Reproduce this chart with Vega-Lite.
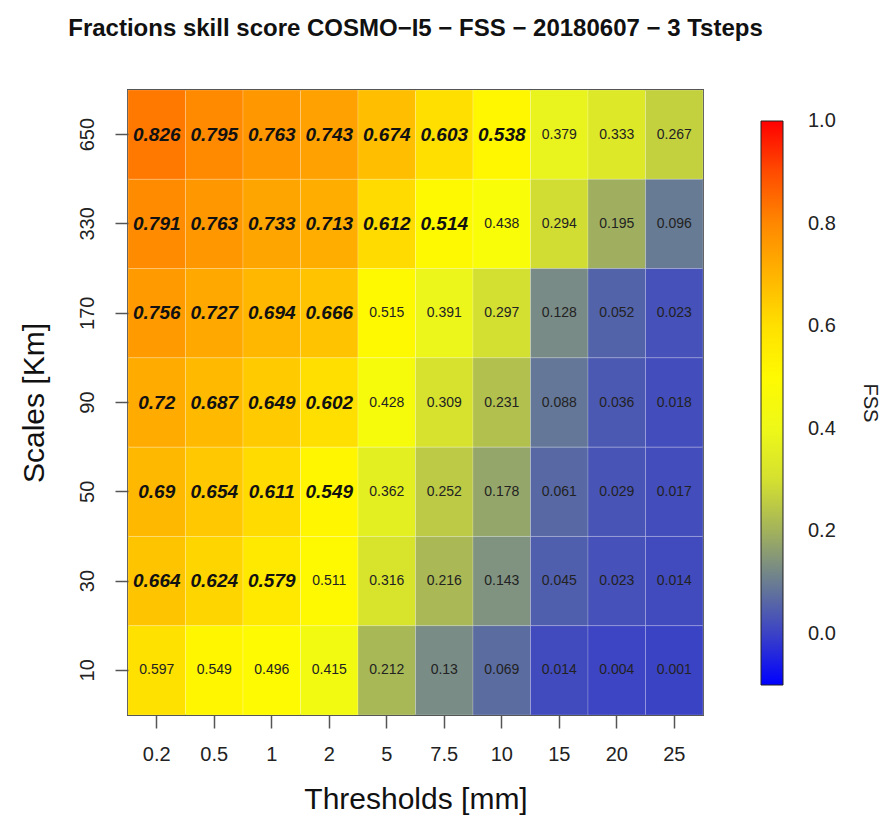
{
  "$schema": "https://vega.github.io/schema/vega-lite/v6.json",
  "width": 575,
  "height": 625,
  "autosize": {"type": "none"},
  "padding": {"left": 128, "top": 90, "right": 179, "bottom": 102},
  "background": "white",
  "config": {
    "font": "Liberation Sans",
    "view": {"stroke": "#444", "strokeWidth": 1.8},
    "axis": {"grid": false, "domain": false, "labelFont": "Liberation Sans", "titleFont": "Liberation Sans", "labelColor": "#222", "titleColor": "#111", "tickColor": "#555", "tickWidth": 1.5}
  },
  "title": {
    "text": "Fractions skill score COSMO−I5 − FSS − 20180607 − 3 Tsteps",
    "font": "Liberation Sans",
    "fontSize": 24,
    "fontWeight": "bold",
    "color": "#111",
    "anchor": "middle",
    "offset": 49
  },
  "data": {
    "values": [
      {"scale": "650", "threshold": "0.2", "fss": 0.826, "useful": true},
      {"scale": "650", "threshold": "0.5", "fss": 0.795, "useful": true},
      {"scale": "650", "threshold": "1", "fss": 0.763, "useful": true},
      {"scale": "650", "threshold": "2", "fss": 0.743, "useful": true},
      {"scale": "650", "threshold": "5", "fss": 0.674, "useful": true},
      {"scale": "650", "threshold": "7.5", "fss": 0.603, "useful": true},
      {"scale": "650", "threshold": "10", "fss": 0.538, "useful": true},
      {"scale": "650", "threshold": "15", "fss": 0.379, "useful": false},
      {"scale": "650", "threshold": "20", "fss": 0.333, "useful": false},
      {"scale": "650", "threshold": "25", "fss": 0.267, "useful": false},
      {"scale": "330", "threshold": "0.2", "fss": 0.791, "useful": true},
      {"scale": "330", "threshold": "0.5", "fss": 0.763, "useful": true},
      {"scale": "330", "threshold": "1", "fss": 0.733, "useful": true},
      {"scale": "330", "threshold": "2", "fss": 0.713, "useful": true},
      {"scale": "330", "threshold": "5", "fss": 0.612, "useful": true},
      {"scale": "330", "threshold": "7.5", "fss": 0.514, "useful": true},
      {"scale": "330", "threshold": "10", "fss": 0.438, "useful": false},
      {"scale": "330", "threshold": "15", "fss": 0.294, "useful": false},
      {"scale": "330", "threshold": "20", "fss": 0.195, "useful": false},
      {"scale": "330", "threshold": "25", "fss": 0.096, "useful": false},
      {"scale": "170", "threshold": "0.2", "fss": 0.756, "useful": true},
      {"scale": "170", "threshold": "0.5", "fss": 0.727, "useful": true},
      {"scale": "170", "threshold": "1", "fss": 0.694, "useful": true},
      {"scale": "170", "threshold": "2", "fss": 0.666, "useful": true},
      {"scale": "170", "threshold": "5", "fss": 0.515, "useful": false},
      {"scale": "170", "threshold": "7.5", "fss": 0.391, "useful": false},
      {"scale": "170", "threshold": "10", "fss": 0.297, "useful": false},
      {"scale": "170", "threshold": "15", "fss": 0.128, "useful": false},
      {"scale": "170", "threshold": "20", "fss": 0.052, "useful": false},
      {"scale": "170", "threshold": "25", "fss": 0.023, "useful": false},
      {"scale": "90", "threshold": "0.2", "fss": 0.72, "useful": true},
      {"scale": "90", "threshold": "0.5", "fss": 0.687, "useful": true},
      {"scale": "90", "threshold": "1", "fss": 0.649, "useful": true},
      {"scale": "90", "threshold": "2", "fss": 0.602, "useful": true},
      {"scale": "90", "threshold": "5", "fss": 0.428, "useful": false},
      {"scale": "90", "threshold": "7.5", "fss": 0.309, "useful": false},
      {"scale": "90", "threshold": "10", "fss": 0.231, "useful": false},
      {"scale": "90", "threshold": "15", "fss": 0.088, "useful": false},
      {"scale": "90", "threshold": "20", "fss": 0.036, "useful": false},
      {"scale": "90", "threshold": "25", "fss": 0.018, "useful": false},
      {"scale": "50", "threshold": "0.2", "fss": 0.69, "useful": true},
      {"scale": "50", "threshold": "0.5", "fss": 0.654, "useful": true},
      {"scale": "50", "threshold": "1", "fss": 0.611, "useful": true},
      {"scale": "50", "threshold": "2", "fss": 0.549, "useful": true},
      {"scale": "50", "threshold": "5", "fss": 0.362, "useful": false},
      {"scale": "50", "threshold": "7.5", "fss": 0.252, "useful": false},
      {"scale": "50", "threshold": "10", "fss": 0.178, "useful": false},
      {"scale": "50", "threshold": "15", "fss": 0.061, "useful": false},
      {"scale": "50", "threshold": "20", "fss": 0.029, "useful": false},
      {"scale": "50", "threshold": "25", "fss": 0.017, "useful": false},
      {"scale": "30", "threshold": "0.2", "fss": 0.664, "useful": true},
      {"scale": "30", "threshold": "0.5", "fss": 0.624, "useful": true},
      {"scale": "30", "threshold": "1", "fss": 0.579, "useful": true},
      {"scale": "30", "threshold": "2", "fss": 0.511, "useful": false},
      {"scale": "30", "threshold": "5", "fss": 0.316, "useful": false},
      {"scale": "30", "threshold": "7.5", "fss": 0.216, "useful": false},
      {"scale": "30", "threshold": "10", "fss": 0.143, "useful": false},
      {"scale": "30", "threshold": "15", "fss": 0.045, "useful": false},
      {"scale": "30", "threshold": "20", "fss": 0.023, "useful": false},
      {"scale": "30", "threshold": "25", "fss": 0.014, "useful": false},
      {"scale": "10", "threshold": "0.2", "fss": 0.597, "useful": false},
      {"scale": "10", "threshold": "0.5", "fss": 0.549, "useful": false},
      {"scale": "10", "threshold": "1", "fss": 0.496, "useful": false},
      {"scale": "10", "threshold": "2", "fss": 0.415, "useful": false},
      {"scale": "10", "threshold": "5", "fss": 0.212, "useful": false},
      {"scale": "10", "threshold": "7.5", "fss": 0.13, "useful": false},
      {"scale": "10", "threshold": "10", "fss": 0.069, "useful": false},
      {"scale": "10", "threshold": "15", "fss": 0.014, "useful": false},
      {"scale": "10", "threshold": "20", "fss": 0.004, "useful": false},
      {"scale": "10", "threshold": "25", "fss": 0.001, "useful": false}
    ]
  },
  "encoding": {
    "x": {
      "field": "threshold", "type": "ordinal",
      "sort": ["0.2", "0.5", "1", "2", "5", "7.5", "10", "15", "20", "25"],
      "scale": {"paddingInner": 0, "paddingOuter": 0},
      "axis": {"title": "Thresholds [mm]", "labelAngle": 0, "labelFontSize": 20, "labelPadding": 16, "tickSize": 13, "titleFontSize": 30, "titleFontWeight": "normal", "titlePadding": 20}
    },
    "y": {
      "field": "scale", "type": "ordinal",
      "sort": ["650", "330", "170", "90", "50", "30", "10"],
      "scale": {"paddingInner": 0, "paddingOuter": 0},
      "axis": {"title": "Scales [Km]", "labelAngle": -90, "labelFontSize": 20, "labelPadding": 18, "tickSize": 13, "titleFontSize": 30, "titleFontWeight": "normal", "titlePadding": 28}
    }
  },
  "layer": [
    {
      "mark": {"type": "rect", "stroke": "white", "strokeOpacity": 0.2, "strokeWidth": 1},
      "encoding": {
        "color": {
          "field": "fss", "type": "quantitative",
          "scale": {
            "domain": [-0.1, 0, 0.05, 0.1, 0.15, 0.2, 0.3, 0.4, 0.45, 0.55, 0.6, 0.7, 0.8, 0.9, 1.0],
            "range": ["#0000ff", "#3b42c6", "#5262aa", "#6a7d92", "#84967e", "#a2b25c", "#d4e030", "#eef818", "#fdfe02", "#fff600", "#ffe000", "#ffb400", "#ff8800", "#ff4c00", "#ff0000"],
            "interpolate": "rgb"
          },
          "legend": {
            "orient": "none", "legendX": 633, "legendY": 31,
            "direction": "vertical",
            "gradientLength": 564, "gradientThickness": 22,
            "gradientStrokeColor": "#222", "gradientStrokeWidth": 1,
            "values": [0, 0.2, 0.4, 0.6, 0.8, 1.0],
            "format": ".1f",
            "labelFontSize": 20, "labelOffset": 25, "labelColor": "#222", "labelFont": "Liberation Sans", "labelBaseline": "middle",
            "title": "FSS", "titleOrient": "right", "titleAngle": 270, "titleAnchor": "middle", "titleBaseline": "top",
            "titleFontSize": 20, "titleFontWeight": "normal", "titleFont": "Liberation Sans", "titleColor": "#222", "titlePadding": 44,
            "encode": {"labels": {"update": {"baseline": {"value": "middle"}}}}
          }
        }
      }
    },
    {
      "transform": [{"filter": "datum.useful"}],
      "mark": {"type": "text", "font": "Liberation Sans", "fontSize": 19, "fontWeight": "bold", "fontStyle": "italic", "color": "#111"},
      "encoding": {"text": {"field": "fss", "type": "quantitative", "format": ".3~f"}}
    },
    {
      "transform": [{"filter": "!datum.useful"}],
      "mark": {"type": "text", "font": "Liberation Sans", "fontSize": 14, "color": "#222"},
      "encoding": {"text": {"field": "fss", "type": "quantitative", "format": ".3~f"}}
    }
  ]
}
